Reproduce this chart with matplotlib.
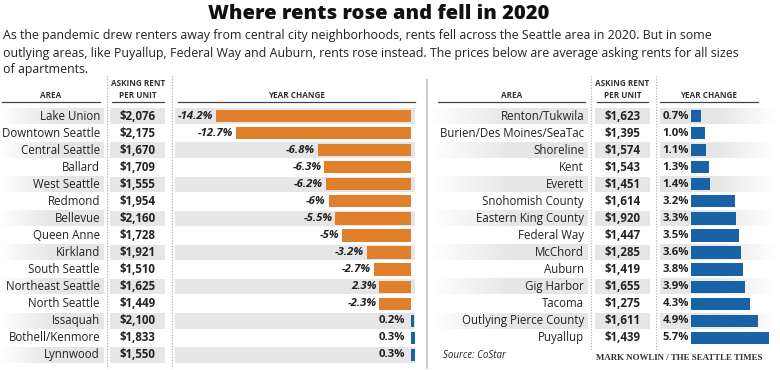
import numpy as np
import matplotlib.pyplot as plt
from matplotlib.colors import LinearSegmentedColormap

plt.rcParams["font.family"] = ["Open Sans", "DejaVu Sans"]

# ---- data ----
left_areas = ["Lake Union", "Downtown Seattle", "Central Seattle", "Ballard", "West Seattle",
              "Redmond", "Bellevue", "Queen Anne", "Kirkland", "South Seattle",
              "Northeast Seattle", "North Seattle", "Issaquah", "Bothell/Kenmore", "Lynnwood"]
left_rents = ["$2,076", "$2,175", "$1,670", "$1,709", "$1,555", "$1,954", "$2,160", "$1,728",
              "$1,921", "$1,510", "$1,625", "$1,449", "$2,100", "$1,833", "$1,550"]
left_change = [-14.2, -12.7, -6.8, -6.3, -6.2, -6.0, -5.5, -5.0, -3.2, -2.7, -2.3, -2.3, 0.2, 0.3, 0.3]
left_labels = ["-14.2%", "-12.7%", "-6.8%", "-6.3%", "-6.2%", "-6%", "-5.5%", "-5%", "-3.2%",
               "-2.7%", "2.3%", "-2.3%", "0.2%", "0.3%", "0.3%"]

right_areas = ["Renton/Tukwila", "Burien/Des Moines/SeaTac", "Shoreline", "Kent", "Everett",
               "Snohomish County", "Eastern King County", "Federal Way", "McChord", "Auburn",
               "Gig Harbor", "Tacoma", "Outlying Pierce County", "Puyallup"]
right_rents = ["$1,623", "$1,395", "$1,574", "$1,543", "$1,451", "$1,614", "$1,920", "$1,447",
               "$1,285", "$1,419", "$1,655", "$1,275", "$1,611", "$1,439"]
right_change = [0.7, 1.0, 1.1, 1.3, 1.4, 3.2, 3.3, 3.5, 3.6, 3.8, 3.9, 4.3, 4.9, 5.7]
right_labels = ["0.7%", "1.0%", "1.1%", "1.3%", "1.4%", "3.2%", "3.3%", "3.5%", "3.6%",
                "3.8%", "3.9%", "4.3%", "4.9%", "5.7%"]

W, H = 780, 370
ORANGE = "#e07f2c"
BLUE = "#1763a6"
BAND = "#e6e6e6"
TXT = "#222222"
ROW = 17.07
PX_PER_PCT = 13.75

fig = plt.figure(figsize=(W / 100, H / 100), dpi=100)
fade_in = LinearSegmentedColormap.from_list("fi", ["#ffffff", BAND, BAND])
fade_out = LinearSegmentedColormap.from_list("fo", [BAND, BAND, "#ffffff"])
grad = np.linspace(0, 1, 100).reshape(1, -1)


def px_axes(x0, y0, x1, y1):
    ax = fig.add_axes([x0 / W, 1 - y1 / H, (x1 - x0) / W, (y1 - y0) / H])
    ax.axis("off")
    return ax


def panel(areas, rents, changes, labels, x0, area_r, rent_l, rent_r, bar_l, bar_r, zero, inside_labels):
    n = len(areas)
    y0 = 116 - ROW / 2
    y1 = y0 + n * ROW
    # table part
    t = px_axes(x0, y0, bar_l, y1)
    t.set_xlim(x0, bar_l)
    t.set_ylim(n - 0.5, -0.5)
    for i in range(n):
        if i % 2 == 0:
            t.imshow(grad, cmap=fade_in, extent=[x0, area_r + 4, i + 0.45, i - 0.45],
                     aspect="auto", zorder=0)
            t.axhspan(i - 0.45, i + 0.45, xmin=(rent_l - x0) / (bar_l - x0),
                      xmax=(rent_r - x0) / (bar_l - x0), color=BAND, lw=0, zorder=0)
        t.text(area_r, i, areas[i], ha="right", va="center", fontsize=8.3, color=TXT)
        t.text((rent_l + rent_r) / 2, i, rents[i], ha="center", va="center",
               fontsize=8.3, fontweight="bold", color=TXT)
    # bars
    b = px_axes(bar_l, y0, bar_r, y1)
    b.set_xlim((bar_l - zero) / PX_PER_PCT, (bar_r - zero) / PX_PER_PCT)
    b.set_ylim(n - 0.5, -0.5)
    ypos = np.arange(n)
    for i in range(n):
        if i % 2 == 0:
            if inside_labels:
                b.axhspan(i - 0.45, i + 0.45, xmax=(415 - bar_l) / (bar_r - bar_l),
                          color=BAND, lw=0, zorder=0)
            else:
                b.imshow(grad, cmap=fade_out, extent=[b.get_xlim()[0], b.get_xlim()[1], i + 0.45, i - 0.45],
                         aspect="auto", zorder=0)
    cols = [ORANGE if v < 0 else BLUE for v in changes]
    b.barh(ypos, changes, height=0.72, color=cols, zorder=2)
    b.set_xlim((bar_l - zero) / PX_PER_PCT, (bar_r - zero) / PX_PER_PCT)
    for i, (v, lab) in enumerate(zip(changes, labels)):
        if inside_labels:
            if v < 0:
                b.text(v - 0.2, i, lab, ha="right", va="center", fontsize=8.2,
                       fontweight="bold", style="italic", color=TXT, zorder=3)
            else:
                b.text(-0.45, i, lab, ha="right", va="center", fontsize=8.2,
                       fontweight="bold", color=TXT, zorder=3)
        else:
            b.text(0.02, i, lab, transform=b.get_yaxis_transform(), ha="left", va="center",
                   fontsize=8.2, fontweight="bold", color=TXT, zorder=3)


panel(left_areas, left_rents, left_change, left_labels,
      0, 100, 110, 165, 175, 417, 411, True)
panel(right_areas, right_rents, right_change, right_labels,
      432, 584, 595, 650, 660, 775, 691, False)

# ---- overlay: titles, headers, rules ----
o = fig.add_axes([0, 0, 1, 1])
o.set_xlim(0, W)
o.set_ylim(H, 0)
o.axis("off")
o.patch.set_alpha(0)

o.text(379, 14, "Where rents rose and fell in 2020", ha="center", va="center",
       fontsize=14.5, fontweight="heavy", color="#111111")
sub = ["As the pandemic drew renters away from central city neighborhoods, rents fell across the Seattle area in 2020. But in some",
       "outlying areas, like Puyallup, Federal Way and Auburn, rents rose instead. The prices below are average asking rents for all sizes",
       "of apartments."]
for k, line in enumerate(sub):
    o.text(3, 36 + k * 17, line, ha="left", va="center", fontsize=8.9, color=TXT)

hdr = dict(fontsize=5.9, fontweight="bold", color="#333333", ha="center", va="center")
for (a_l, a_r, r_l, r_r, y_l, y_r) in [(2, 100, 112, 164, 178, 415), (438, 585, 597, 648, 660, 758)]:
    o.text((a_l + a_r) / 2, 95, "AREA", **hdr)
    o.text((r_l + r_r) / 2, 84, "ASKING RENT", **hdr)
    o.text((r_l + r_r) / 2, 95, "PER UNIT", **hdr)
    o.text((y_l + y_r) / 2, 95, "YEAR CHANGE", **hdr)
    for xa, xb in [(a_l, a_r), (r_l, r_r), (y_l, y_r)]:
        o.plot([xa, xb], [101.5, 101.5], color="#444444", lw=0.9)

for x, yb in [(107, 368), (172, 368), (591, 350), (656, 350)]:
    o.plot([x, x], [76, yb], color="#aaaaaa", lw=0.8, ls=(0, (1, 1.5)))
o.plot([427, 427], [80, 368], color="#cccccc", lw=1.5)

o.text(443, 355, "Source: CoStar", ha="left", va="center", fontsize=7, style="italic", color=TXT)
o.text(762, 358, "MARK NOWLIN / THE SEATTLE TIMES", ha="right", va="center", fontsize=6.4,
       fontweight="bold", family=["Liberation Serif", "DejaVu Serif"], color="#333333")

fig.savefig("out.png", dpi=100)
